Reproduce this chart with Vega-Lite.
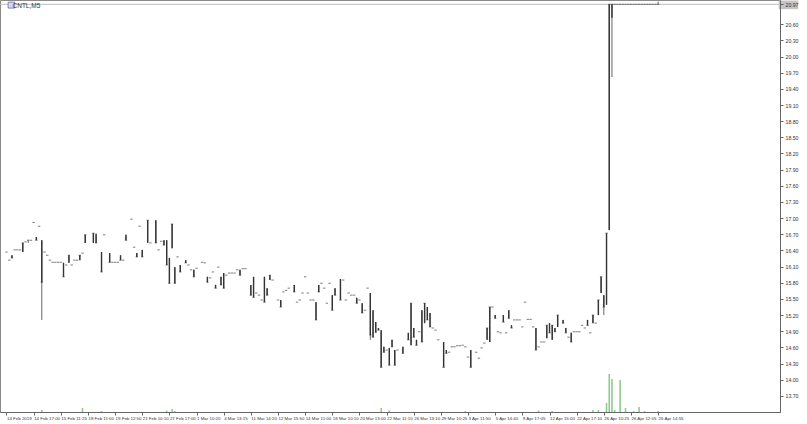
{
  "$schema": "https://vega.github.io/schema/vega-lite/v6.json",
  "width": 780,
  "height": 412,
  "autosize": {"type": "none"},
  "padding": {"left": 0, "top": 0, "right": 27, "bottom": 12},
  "background": "white",
  "config": {
    "view": {"stroke": "#8a8a8a", "strokeWidth": 1},
    "font": "Liberation Sans"
  },
  "title": {"text": "CNTL,M5", "anchor": "start", "orient": "top", "offset": -9, "dx": 13, "fontSize": 6.5, "fontWeight": "normal", "color": "#333333", "font": "Liberation Sans"},
  "data": {"values": [
    {"i":0,"o":16.37,"h":16.37,"l":16.37,"c":16.37},
    {"i":1,"o":16.22,"h":16.22,"l":16.22,"c":16.22},
    {"i":2,"o":16.31,"h":16.31,"l":16.26,"c":16.26},
    {"i":3,"o":16.41,"h":16.41,"l":16.41,"c":16.41},
    {"i":4,"o":16.41,"h":16.41,"l":16.41,"c":16.41},
    {"i":5,"o":16.41,"h":16.41,"l":16.41,"c":16.41},
    {"i":6,"o":16.37,"h":16.54,"l":16.37,"c":16.54},
    {"i":7,"o":16.56,"h":16.56,"l":16.56,"c":16.56},
    {"i":8,"o":16.59,"h":16.59,"l":16.54,"c":16.59},
    {"i":9,"o":16.59,"h":16.59,"l":16.59,"c":16.59},
    {"i":10,"o":16.92,"h":16.92,"l":16.92,"c":16.92},
    {"i":11,"o":16.65,"h":16.65,"l":16.59,"c":16.59},
    {"i":12,"o":16.85,"h":16.85,"l":16.85,"c":16.85},
    {"i":13,"o":16.59,"h":16.59,"l":15.11,"c":15.81,"v":200},
    {"i":14,"o":16.37,"h":16.37,"l":16.37,"c":16.37},
    {"i":15,"o":16.31,"h":16.31,"l":16.31,"c":16.31},
    {"i":16,"o":16.22,"h":16.22,"l":16.22,"c":16.22},
    {"i":17,"o":16.18,"h":16.18,"l":16.18,"c":16.18},
    {"i":18,"o":16.18,"h":16.18,"l":16.18,"c":16.18},
    {"i":19,"o":16.18,"h":16.18,"l":16.18,"c":16.18},
    {"i":20,"o":16.18,"h":16.18,"l":16.18,"c":16.18},
    {"i":21,"o":16.17,"h":16.17,"l":15.91,"c":15.91},
    {"i":22,"o":16.13,"h":16.13,"l":16.13,"c":16.13},
    {"i":23,"o":16.17,"h":16.31,"l":16.17,"c":16.31},
    {"i":24,"o":16.13,"h":16.13,"l":16.13,"c":16.13},
    {"i":25,"o":16.22,"h":16.22,"l":16.22,"c":16.22},
    {"i":26,"o":16.22,"h":16.22,"l":16.22,"c":16.22},
    {"i":27,"o":16.22,"h":16.31,"l":16.22,"c":16.31},
    {"i":28,"o":16.35,"h":16.35,"l":16.35,"c":16.35,"v":400},
    {"i":29,"o":16.54,"h":16.69,"l":16.54,"c":16.69},
    {"i":32,"o":16.54,"h":16.72,"l":16.54,"c":16.72},
    {"i":33,"o":16.70,"h":16.72,"l":16.54,"c":16.54},
    {"i":35,"o":16.37,"h":16.37,"l":16.00,"c":16.00,"v":100},
    {"i":36,"o":16.69,"h":16.69,"l":16.69,"c":16.69},
    {"i":38,"o":16.35,"h":16.35,"l":16.18,"c":16.18},
    {"i":39,"o":16.18,"h":16.18,"l":16.18,"c":16.18},
    {"i":40,"o":16.18,"h":16.18,"l":16.18,"c":16.18},
    {"i":41,"o":16.18,"h":16.18,"l":16.18,"c":16.18},
    {"i":42,"o":16.31,"h":16.31,"l":16.22,"c":16.22},
    {"i":43,"o":16.22,"h":16.22,"l":16.22,"c":16.22},
    {"i":44,"o":16.69,"h":16.69,"l":16.59,"c":16.59},
    {"i":46,"o":16.98,"h":16.98,"l":16.98,"c":16.98},
    {"i":47,"o":16.46,"h":16.46,"l":16.46,"c":16.46},
    {"i":48,"o":16.35,"h":16.35,"l":16.28,"c":16.28},
    {"i":49,"o":16.85,"h":16.85,"l":16.85,"c":16.85},
    {"i":50,"o":16.41,"h":16.41,"l":16.28,"c":16.28},
    {"i":52,"o":16.54,"h":16.96,"l":16.54,"c":16.96},
    {"i":53,"o":16.54,"h":16.54,"l":16.54,"c":16.54},
    {"i":55,"o":16.96,"h":16.96,"l":16.54,"c":16.54},
    {"i":56,"o":16.41,"h":16.41,"l":16.41,"c":16.41},
    {"i":57,"o":16.57,"h":16.57,"l":16.57,"c":16.57},
    {"i":58,"o":16.59,"h":16.59,"l":16.50,"c":16.50},
    {"i":59,"o":16.59,"h":16.59,"l":16.13,"c":16.13,"v":150},
    {"i":60,"o":16.26,"h":16.26,"l":15.79,"c":15.79},
    {"i":61,"o":16.44,"h":16.89,"l":16.44,"c":16.89,"v":300},
    {"i":62,"o":16.09,"h":16.09,"l":15.79,"c":15.79,"v":100},
    {"i":63,"o":16.28,"h":16.28,"l":16.28,"c":16.28},
    {"i":64,"o":16.13,"h":16.13,"l":16.00,"c":16.00},
    {"i":66,"o":16.22,"h":16.22,"l":16.17,"c":16.17},
    {"i":67,"o":16.13,"h":16.13,"l":16.13,"c":16.13},
    {"i":68,"o":16.04,"h":16.04,"l":16.04,"c":16.04},
    {"i":69,"o":16.04,"h":16.04,"l":15.91,"c":15.91},
    {"i":70,"o":16.07,"h":16.07,"l":16.07,"c":16.07},
    {"i":72,"o":16.18,"h":16.18,"l":16.18,"c":16.18},
    {"i":73,"o":16.17,"h":16.17,"l":16.17,"c":16.17},
    {"i":74,"o":15.91,"h":15.91,"l":15.81,"c":15.81},
    {"i":75,"o":15.89,"h":15.89,"l":15.89,"c":15.89},
    {"i":76,"o":16.00,"h":16.00,"l":16.00,"c":16.00},
    {"i":77,"o":15.76,"h":15.76,"l":15.70,"c":15.70},
    {"i":78,"o":16.09,"h":16.09,"l":16.09,"c":16.09},
    {"i":79,"o":15.91,"h":15.91,"l":15.76,"c":15.76},
    {"i":80,"o":15.98,"h":15.98,"l":15.70,"c":15.70},
    {"i":81,"o":15.94,"h":15.94,"l":15.94,"c":15.94},
    {"i":82,"o":15.98,"h":15.98,"l":15.98,"c":15.98},
    {"i":83,"o":15.98,"h":15.98,"l":15.98,"c":15.98},
    {"i":84,"o":15.98,"h":15.98,"l":15.98,"c":15.98},
    {"i":85,"o":16.04,"h":16.04,"l":16.04,"c":16.04},
    {"i":86,"o":16.04,"h":16.04,"l":15.94,"c":15.94},
    {"i":87,"o":16.06,"h":16.06,"l":16.06,"c":16.06},
    {"i":88,"o":16.06,"h":16.06,"l":16.06,"c":16.06},
    {"i":90,"o":15.76,"h":15.76,"l":15.57,"c":15.57},
    {"i":91,"o":15.91,"h":15.91,"l":15.53,"c":15.53},
    {"i":92,"o":15.61,"h":15.61,"l":15.61,"c":15.61},
    {"i":93,"o":15.57,"h":15.57,"l":15.57,"c":15.57},
    {"i":94,"o":15.48,"h":15.48,"l":15.48,"c":15.48},
    {"i":95,"o":15.91,"h":15.91,"l":15.44,"c":15.44},
    {"i":96,"o":15.70,"h":15.70,"l":15.57,"c":15.57},
    {"i":97,"o":15.85,"h":15.94,"l":15.85,"c":15.94},
    {"i":98,"o":15.85,"h":15.85,"l":15.85,"c":15.85},
    {"i":100,"o":15.48,"h":15.48,"l":15.48,"c":15.48},
    {"i":101,"o":15.48,"h":15.48,"l":15.35,"c":15.35},
    {"i":102,"o":15.63,"h":15.63,"l":15.63,"c":15.63},
    {"i":103,"o":15.66,"h":15.66,"l":15.66,"c":15.66},
    {"i":104,"o":15.70,"h":15.70,"l":15.70,"c":15.70},
    {"i":106,"o":15.76,"h":15.76,"l":15.63,"c":15.63},
    {"i":107,"o":15.44,"h":15.44,"l":15.44,"c":15.44},
    {"i":108,"o":15.48,"h":15.48,"l":15.48,"c":15.48},
    {"i":109,"o":15.61,"h":15.61,"l":15.61,"c":15.61},
    {"i":110,"o":15.91,"h":15.91,"l":15.91,"c":15.91},
    {"i":111,"o":15.61,"h":15.61,"l":15.61,"c":15.61},
    {"i":112,"o":15.48,"h":15.48,"l":15.48,"c":15.48},
    {"i":113,"o":15.48,"h":15.48,"l":15.48,"c":15.48},
    {"i":114,"o":15.44,"h":15.44,"l":15.11,"c":15.11},
    {"i":115,"o":15.76,"h":15.76,"l":15.63,"c":15.63},
    {"i":116,"o":15.79,"h":15.79,"l":15.79,"c":15.79},
    {"i":117,"o":15.70,"h":15.70,"l":15.70,"c":15.70},
    {"i":118,"o":15.42,"h":15.42,"l":15.42,"c":15.42},
    {"i":119,"o":15.79,"h":15.79,"l":15.79,"c":15.79},
    {"i":120,"o":15.57,"h":15.57,"l":15.29,"c":15.29},
    {"i":121,"o":15.70,"h":15.70,"l":15.57,"c":15.57},
    {"i":123,"o":15.87,"h":15.87,"l":15.48,"c":15.48},
    {"i":124,"o":15.85,"h":15.85,"l":15.85,"c":15.85},
    {"i":125,"o":15.48,"h":15.48,"l":15.48,"c":15.48},
    {"i":126,"o":15.61,"h":15.61,"l":15.61,"c":15.61},
    {"i":127,"o":15.57,"h":15.57,"l":15.57,"c":15.57},
    {"i":128,"o":15.57,"h":15.57,"l":15.57,"c":15.57},
    {"i":129,"o":15.52,"h":15.52,"l":15.42,"c":15.42},
    {"i":130,"o":15.48,"h":15.48,"l":15.48,"c":15.48},
    {"i":131,"o":15.42,"h":15.42,"l":15.24,"c":15.24},
    {"i":132,"o":15.29,"h":15.29,"l":15.29,"c":15.29},
    {"i":133,"o":15.70,"h":15.70,"l":15.70,"c":15.70},
    {"i":134,"o":15.61,"h":15.61,"l":14.74,"c":14.83},
    {"i":135,"o":15.29,"h":15.29,"l":14.79,"c":14.79},
    {"i":136,"o":15.07,"h":15.07,"l":14.88,"c":14.88},
    {"i":137,"o":14.96,"h":14.96,"l":14.92,"c":14.92},
    {"i":138,"o":14.92,"h":14.92,"l":14.23,"c":14.23,"v":400},
    {"i":139,"o":14.61,"h":14.61,"l":14.51,"c":14.51},
    {"i":140,"o":14.55,"h":14.55,"l":14.55,"c":14.55},
    {"i":141,"o":14.59,"h":14.59,"l":14.27,"c":14.27,"v":150},
    {"i":142,"o":14.74,"h":14.74,"l":14.61,"c":14.61},
    {"i":143,"o":14.55,"h":14.55,"l":14.27,"c":14.27},
    {"i":144,"o":14.55,"h":14.55,"l":14.55,"c":14.55},
    {"i":146,"o":14.61,"h":14.61,"l":14.49,"c":14.49},
    {"i":148,"o":14.87,"h":14.87,"l":14.74,"c":14.74},
    {"i":149,"o":14.64,"h":15.42,"l":14.64,"c":15.42},
    {"i":150,"o":14.96,"h":14.96,"l":14.79,"c":14.79},
    {"i":151,"o":14.74,"h":14.74,"l":14.64,"c":14.64},
    {"i":152,"o":14.89,"h":14.89,"l":14.89,"c":14.89},
    {"i":153,"o":15.29,"h":15.29,"l":14.70,"c":14.70},
    {"i":154,"o":15.05,"h":15.42,"l":15.05,"c":15.42},
    {"i":155,"o":15.35,"h":15.35,"l":15.11,"c":15.11},
    {"i":156,"o":15.24,"h":15.24,"l":14.98,"c":14.98},
    {"i":157,"o":14.96,"h":14.96,"l":14.96,"c":14.96},
    {"i":158,"o":14.92,"h":14.92,"l":14.92,"c":14.92},
    {"i":159,"o":14.74,"h":14.74,"l":14.74,"c":14.74},
    {"i":161,"o":14.70,"h":14.70,"l":14.23,"c":14.23},
    {"i":162,"o":14.55,"h":14.55,"l":14.49,"c":14.49},
    {"i":163,"o":14.51,"h":14.51,"l":14.51,"c":14.51},
    {"i":164,"o":14.61,"h":14.61,"l":14.61,"c":14.61},
    {"i":165,"o":14.61,"h":14.61,"l":14.61,"c":14.61},
    {"i":166,"o":14.63,"h":14.63,"l":14.63,"c":14.63},
    {"i":167,"o":14.63,"h":14.63,"l":14.63,"c":14.63},
    {"i":168,"o":14.64,"h":14.64,"l":14.64,"c":14.64},
    {"i":169,"o":14.61,"h":14.61,"l":14.61,"c":14.61,"v":100},
    {"i":170,"o":14.42,"h":14.42,"l":14.42,"c":14.42},
    {"i":171,"o":14.55,"h":14.55,"l":14.23,"c":14.23},
    {"i":173,"o":14.51,"h":14.51,"l":14.51,"c":14.51},
    {"i":174,"o":14.40,"h":14.40,"l":14.40,"c":14.40},
    {"i":175,"o":14.59,"h":14.59,"l":14.59,"c":14.59},
    {"i":176,"o":14.68,"h":14.68,"l":14.68,"c":14.68},
    {"i":177,"o":14.74,"h":14.96,"l":14.74,"c":14.96},
    {"i":178,"o":14.70,"h":15.35,"l":14.70,"c":15.35},
    {"i":179,"o":15.35,"h":15.35,"l":15.35,"c":15.35},
    {"i":180,"o":15.20,"h":15.20,"l":15.14,"c":15.14},
    {"i":181,"o":14.89,"h":14.89,"l":14.89,"c":14.89},
    {"i":182,"o":14.87,"h":14.87,"l":14.87,"c":14.87},
    {"i":183,"o":15.20,"h":15.20,"l":15.07,"c":15.07},
    {"i":184,"o":14.87,"h":14.87,"l":14.87,"c":14.87},
    {"i":185,"o":15.29,"h":15.29,"l":15.14,"c":15.14},
    {"i":186,"o":15.01,"h":15.01,"l":14.96,"c":14.96},
    {"i":187,"o":15.11,"h":15.11,"l":15.11,"c":15.11},
    {"i":188,"o":15.11,"h":15.11,"l":15.11,"c":15.11},
    {"i":189,"o":15.11,"h":15.11,"l":15.11,"c":15.11},
    {"i":190,"o":14.98,"h":14.98,"l":14.98,"c":14.98},
    {"i":191,"o":15.44,"h":15.44,"l":15.44,"c":15.44},
    {"i":192,"o":15.12,"h":15.12,"l":15.12,"c":15.12},
    {"i":193,"o":15.12,"h":15.12,"l":15.12,"c":15.12},
    {"i":194,"o":14.98,"h":14.98,"l":14.98,"c":14.98},
    {"i":195,"o":14.96,"h":14.96,"l":14.55,"c":14.55},
    {"i":196,"o":14.61,"h":14.61,"l":14.61,"c":14.61,"v":150},
    {"i":197,"o":14.70,"h":14.70,"l":14.70,"c":14.70},
    {"i":198,"o":14.70,"h":14.70,"l":14.70,"c":14.70},
    {"i":199,"o":14.77,"h":15.01,"l":14.77,"c":15.01},
    {"i":200,"o":15.05,"h":15.05,"l":14.87,"c":14.87},
    {"i":201,"o":14.74,"h":15.01,"l":14.74,"c":15.01,"v":100},
    {"i":202,"o":14.96,"h":14.96,"l":14.89,"c":14.89},
    {"i":203,"o":14.98,"h":15.20,"l":14.98,"c":15.20},
    {"i":205,"o":15.11,"h":15.11,"l":15.05,"c":15.05},
    {"i":206,"o":14.96,"h":14.96,"l":14.87,"c":14.87},
    {"i":207,"o":14.79,"h":14.79,"l":14.79,"c":14.79},
    {"i":208,"o":14.87,"h":14.87,"l":14.70,"c":14.70},
    {"i":209,"o":14.89,"h":14.89,"l":14.89,"c":14.89},
    {"i":210,"o":14.89,"h":14.89,"l":14.89,"c":14.89},
    {"i":211,"o":14.89,"h":14.89,"l":14.89,"c":14.89},
    {"i":212,"o":15.01,"h":15.01,"l":15.01,"c":15.01},
    {"i":213,"o":14.96,"h":14.96,"l":14.96,"c":14.96},
    {"i":214,"o":15.11,"h":15.11,"l":15.01,"c":15.01},
    {"i":215,"o":14.87,"h":14.87,"l":14.87,"c":14.87},
    {"i":216,"o":15.05,"h":15.20,"l":15.05,"c":15.20,"v":200},
    {"i":217,"o":15.05,"h":15.05,"l":15.05,"c":15.05},
    {"i":218,"o":15.20,"h":15.48,"l":15.20,"c":15.48,"v":200},
    {"i":219,"o":15.61,"h":15.91,"l":15.61,"c":15.91},
    {"i":220,"o":15.57,"h":15.57,"l":15.20,"c":15.35},
    {"i":221,"o":15.39,"h":16.72,"l":15.39,"c":16.72,"v":900},
    {"i":222,"o":16.78,"h":20.97,"l":16.78,"c":20.97,"v":3800},
    {"i":223,"o":20.72,"h":20.97,"l":19.62,"c":20.97,"v":3300},
    {"i":224,"o":20.97,"h":20.97,"l":20.97,"c":20.97,"v":200},
    {"i":225,"o":20.97,"h":20.97,"l":20.97,"c":20.97},
    {"i":226,"o":20.97,"h":20.97,"l":20.97,"c":20.97,"v":3200},
    {"i":227,"o":20.97,"h":20.97,"l":20.97,"c":20.97},
    {"i":228,"o":20.97,"h":20.97,"l":20.97,"c":20.97,"v":400},
    {"i":229,"o":20.97,"h":20.97,"l":20.97,"c":20.97},
    {"i":230,"o":20.97,"h":20.97,"l":20.97,"c":20.97},
    {"i":231,"o":20.97,"h":20.97,"l":20.97,"c":20.97,"v":100},
    {"i":232,"o":20.97,"h":20.97,"l":20.97,"c":20.97},
    {"i":233,"o":20.97,"h":20.97,"l":20.97,"c":20.97,"v":500},
    {"i":234,"o":20.97,"h":20.97,"l":20.97,"c":20.97},
    {"i":235,"o":20.97,"h":20.97,"l":20.97,"c":20.97,"v":100},
    {"i":236,"o":20.97,"h":20.97,"l":20.97,"c":20.97},
    {"i":237,"o":20.97,"h":20.97,"l":20.97,"c":20.97},
    {"i":238,"o":20.97,"h":20.97,"l":20.97,"c":20.97},
    {"i":239,"o":20.97,"h":20.97,"l":20.97,"c":20.97},
    {"i":240,"o":20.97,"h":21.02,"l":20.97,"c":20.97,"v":100}
  ]},
  "layer": [
    {
      "mark": {"type": "bar", "color": "#8fca8f", "width": 1.6},
      "encoding": {
        "x": {"field": "i", "type": "quantitative", "scale": {"domain": [-0.55, 283.05], "nice": false, "zero": false},
          "axis": {"values": [0,10,20,30,40,50,60,70,80,90,100,110,120,130,140,150,160,170,180,190,200,210,220,230,240],
            "tickCount": 200,
            "labelExpr": "['14 Feb 2019','14 Feb 17:00','15 Feb 11:25','18 Feb 11:00','19 Feb 12:50','21 Feb 10:10','27 Feb 17:00','1 Mar 10:20','4 Mar 13:15','11 Mar 14:20','12 Mar 15:50','14 Mar 11:00','18 Mar 10:10','20 Mar 13:00','22 Mar 11:10','26 Mar 13:10','29 Mar 10:25','3 Apr 11:50','5 Apr 14:40','9 Apr 17:05','12 Apr 15:00','22 Apr 17:10','26 Apr 10:25','26 Apr 12:05','26 Apr 14:55'][round(datum.value/10)]",
            "labelAlign": "left", "labelFontSize": 4.4, "labelPadding": 1.5, "labelDx": 0.5, "tickSize": 3, "tickColor": "#666666", "domainColor": "#666666", "labelColor": "#333333", "labelOverlap": false, "labelFlush": false, "grid": false, "title": null, "zindex": 1}},
        "y": {"field": "v", "type": "quantitative", "scale": {"domain": [0, 41200]}, "axis": null}
      }
    },
    {
      "layer": [
        {
          "data": {"values": [{}]},
          "mark": {"type": "rule", "color": "#bdbdbd", "strokeWidth": 1},
          "encoding": {
            "y": {"datum": 20.97, "type": "quantitative", "scale": {"domain": [13.40, 21.05], "nice": false, "zero": false},
              "axis": {"orient": "right", "values": [13.7,14.0,14.3,14.6,14.9,15.2,15.5,15.8,16.1,16.4,16.7,17.0,17.3,17.6,17.9,18.2,18.5,18.8,19.1,19.4,19.7,20.0,20.3,20.6,20.97],
                "tickCount": 200,
                "format": ".2f", "labelFontSize": 5.2, "labelPadding": 2, "tickSize": 3, "tickColor": "#666666", "domainColor": "#666666", "labelColor": "#333333", "labelOverlap": false, "labelFlush": false, "grid": false, "title": null, "zindex": 1}}
          }
        },
        {
          "data": {"values": [{}]},
          "mark": {"type": "rect", "color": "#c4c4c4", "clip": false},
          "encoding": {
            "x": {"datum": 284.4, "type": "quantitative"},
            "x2": {"datum": 291.6},
            "y": {"datum": 20.88, "type": "quantitative"},
            "y2": {"datum": 21.04}
          }
        },
        {
          "data": {"values": [{}]},
          "mark": {"type": "rect", "fill": "#d9d9f2", "stroke": "#6b6bb0", "strokeWidth": 0.8},
          "encoding": {
            "x": {"datum": 0.6, "type": "quantitative"},
            "x2": {"datum": 3.0},
            "y": {"datum": 20.90, "type": "quantitative"},
            "y2": {"datum": 21.01}
          }
        },
        {
          "mark": {"type": "rule", "color": "#666666", "strokeWidth": 1},
          "encoding": {
            "x": {"field": "i", "type": "quantitative"},
            "y": {"field": "l", "type": "quantitative"},
            "y2": {"field": "h"}
          }
        },
        {
          "mark": {"type": "rule", "color": "#333333", "strokeWidth": 1.4},
          "encoding": {
            "x": {"field": "i", "type": "quantitative"},
            "y": {"field": "o", "type": "quantitative"},
            "y2": {"field": "c"}
          }
        },
        {
          "mark": {"type": "tick", "orient": "horizontal", "size": 2.4, "thickness": 1, "color": "#444444"},
          "encoding": {
            "x": {"field": "i", "type": "quantitative"},
            "y": {"field": "c", "type": "quantitative"}
          }
        }
      ]
    }
  ],
  "resolve": {"scale": {"y": "independent"}}
}
